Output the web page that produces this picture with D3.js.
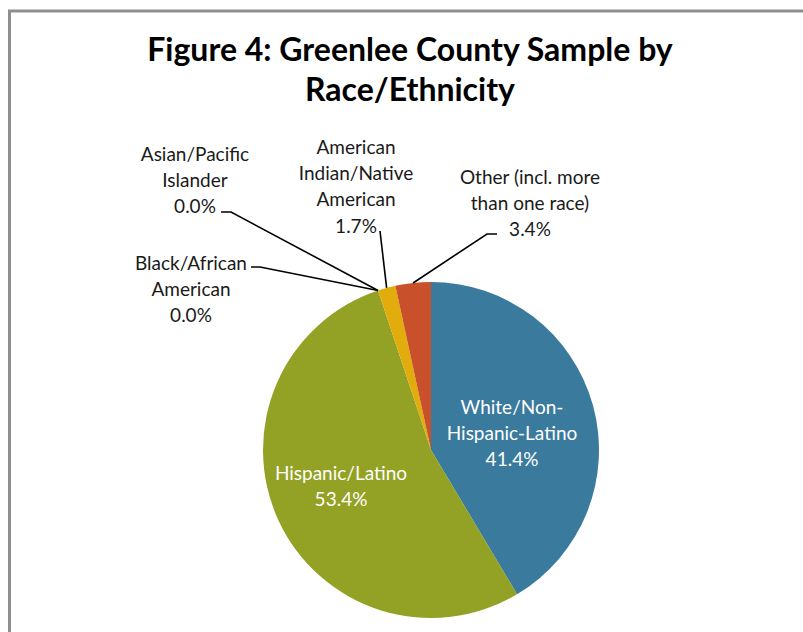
<!DOCTYPE html>
<html>
<head>
<meta charset="utf-8">
<script src="https://cdn.jsdelivr.net/npm/d3@7"></script>
<style>
  html, body { margin: 0; padding: 0; background: #fff; }
  svg { display: block; }
</style>
</head>
<body>
<svg id="chart" width="803" height="632"></svg>
<script>
// ---- data ----
const categories = [
  "White/Non-Hispanic-Latino",
  "Hispanic/Latino",
  "Black/African American",
  "Asian/Pacific Islander",
  "American Indian/Native American",
  "Other (incl. more than one race)"
];
const values = [41.4, 53.4, 0.0, 0.0, 1.7, 3.4];
const valueLabels = ["41.4%", "53.4%", "0.0%", "0.0%", "1.7%", "3.4%"];
const labelLines = [
  ["White/Non-", "Hispanic-Latino"],
  ["Hispanic/Latino"],
  ["Black/African", "American"],
  ["Asian/Pacific", "Islander"],
  ["American", "Indian/Native", "American"],
  ["Other (incl. more", "than one race)"]
];
const colors = ["#3A7A9D", "#93A224", "#7E5FA0", "#4BACC6", "#E2AC0D", "#C8502A"];
const titleLines = ["Figure 4: Greenlee County Sample by", "Race/Ethnicity"];

// ---- layout (positions only) ----
const cx = 431, cy = 450, R = 168;
const labelLayout = [
  { x: 512, y: 407, inside: true },
  { x: 341, y: 473, inside: true },
  { x: 191, y: 263, leader: [[251, 267], [260, 267]] },
  { x: 195, y: 154, leader: [[221, 212], [231, 212]] },
  { x: 356, y: 147, leader: [[380, 231]] },
  { x: 530, y: 177, leader: [[497, 234], [487, 234]] }
];
const lineH = 26.3;

const svg = d3.select("#chart");

// frame
svg.append("path")
  .attr("d", "M9.5,640 L9.5,11 L810,11")
  .attr("fill", "none")
  .attr("stroke", "#8f8f8f")
  .attr("stroke-width", 3);

// title
const title = svg.append("text")
  .attr("x", 410)
  .attr("y", 61)
  .attr("text-anchor", "middle")
  .attr("font-family", "Lato, 'Open Sans', sans-serif")
  .attr("font-weight", "bold")
  .attr("font-size", 32)
  .attr("fill", "#000");
title.selectAll("tspan").data(titleLines).join("tspan")
  .attr("x", 410)
  .attr("dy", (d, i) => i === 0 ? 0 : 40)
  .text(d => d);

// pie
const pie = d3.pie().value(d => d).sort(null);
const arcs = pie(values);
const arc = d3.arc().innerRadius(0).outerRadius(R);
const edgeArc = d3.arc().innerRadius(R).outerRadius(R);

const g = svg.append("g").attr("transform", `translate(${cx},${cy})`);
g.selectAll("path.slice").data(arcs).join("path")
  .attr("class", "slice")
  .attr("d", arc)
  .attr("fill", (d, i) => colors[i]);

// leader lines
const lineGen = d3.line();
arcs.forEach((a, i) => {
  const L = labelLayout[i];
  if (!L.leader) return;
  const e = edgeArc.centroid(a);
  const pts = L.leader.concat([[cx + e[0], cy + e[1]]]);
  svg.append("path")
    .attr("d", lineGen(pts))
    .attr("fill", "none")
    .attr("stroke", "#000")
    .attr("stroke-width", 1.6);
});

// labels
arcs.forEach((a, i) => {
  const L = labelLayout[i];
  const lines = labelLines[i].concat([valueLabels[i]]);
  const t = svg.append("text")
    .attr("text-anchor", "middle")
    .attr("font-family", "Lato, 'Open Sans', sans-serif")
    .attr("font-size", 19)
    .attr("fill", L.inside ? "#ffffff" : "#1a1a1a");
  t.selectAll("tspan").data(lines).join("tspan")
    .attr("x", L.x)
    .attr("y", (d, j) => L.y + j * lineH)
    .attr("dy", "0.35em")
    .text(d => d);
});
</script>
</body>
</html>
